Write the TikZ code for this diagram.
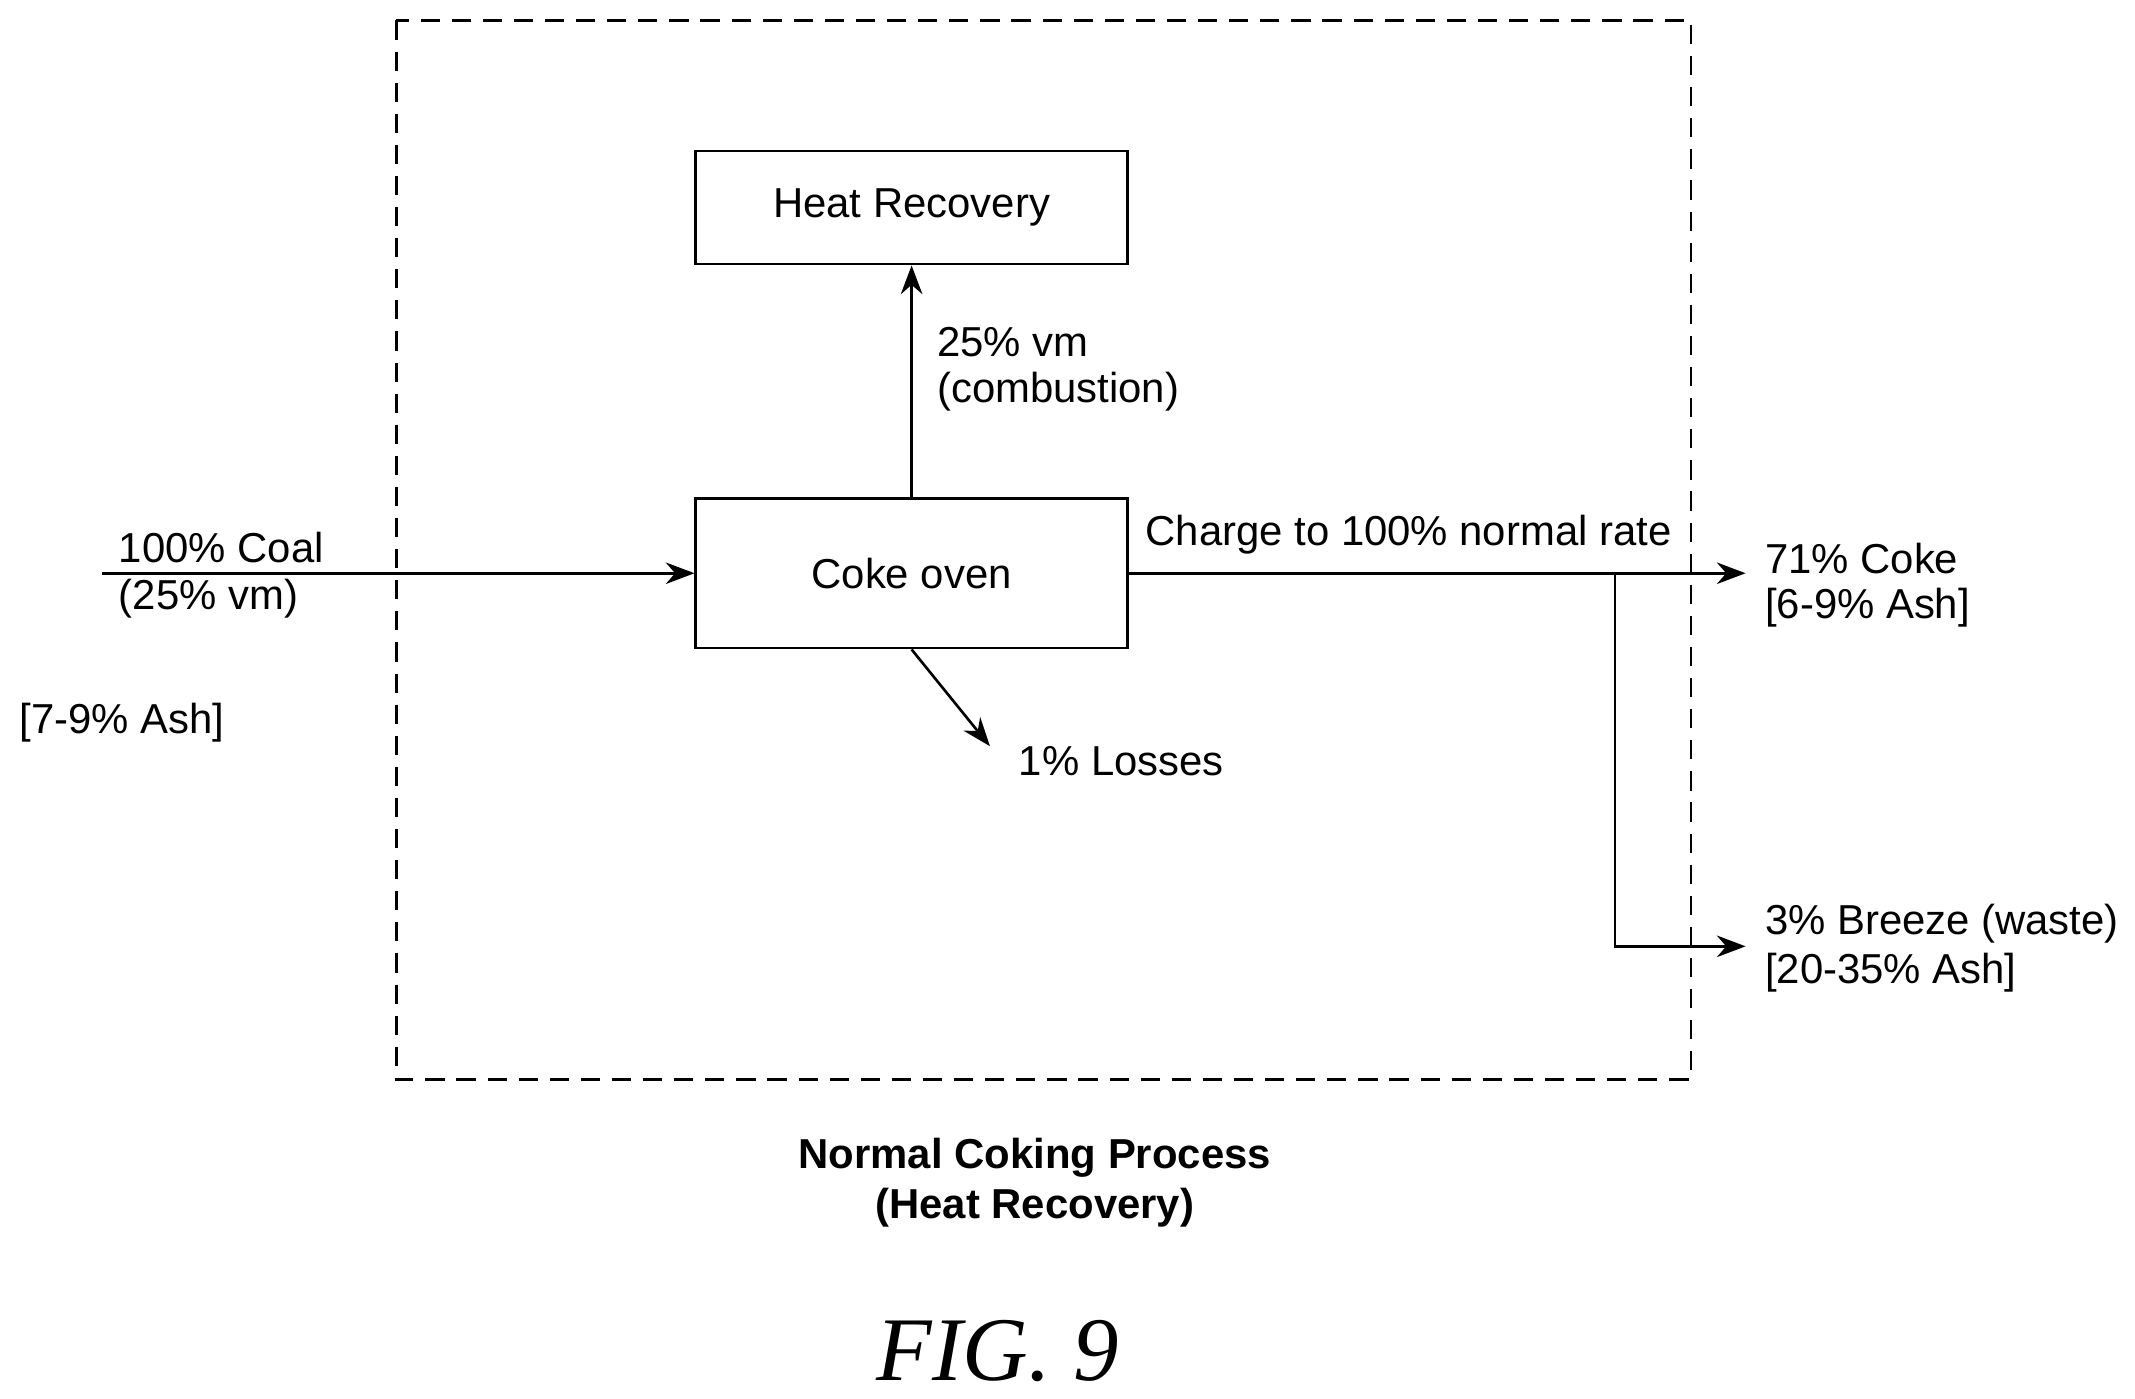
\documentclass[tikz,border=0pt]{standalone}
\usepackage{fontspec}
\setmainfont{Liberation Sans}
\newfontfamily\figfont{Liberation Serif}
\usetikzlibrary{arrows.meta}
\begin{document}
\begin{tikzpicture}[x=0.02cm,y=-0.02cm,
  lbl/.style={font=\fontsize{17.5}{21}\selectfont,inner sep=0pt,anchor=west},
  box/.style={draw,line width=1.1pt,inner sep=0pt},
  arr/.style={line width=1.1pt,-{Stealth[length=12pt,width=9pt]}}]
\useasboundingbox (0,0) rectangle (1568,1027);
\draw[dashed,line width=1.1pt,dash pattern=on 8pt off 5pt] (291,15) rectangle (1242,793);
\node[box,minimum width=317*0.02cm,minimum height=83*0.02cm] (hr) at (669.5,152.5) {\fontsize{17.5}{21}\selectfont Heat Recovery};
\node[box,minimum width=317*0.02cm,minimum height=110*0.02cm] (co) at (669.5,421) {\fontsize{17.5}{21}\selectfont Coke oven};
\coordinate (in) at (75,421);
\coordinate (out) at (1282,421);
\coordinate (br) at (1186,421);
\coordinate (bro) at (1282,695);
\coordinate (loss) at (727,548);
\draw[arr] (co.north) -- (hr.south);
\draw[arr] (in) -- (co.west);
\draw[arr] (co.east) -- (out);
\draw[arr] (br) |- (bro);
\draw[arr] (co.south) -- (loss);
\node[lbl] (t1) at (688,251) {25\% vm};
\node[lbl] (t2) at (688,288) {(combustion)};
\node[lbl] (t3) at (87,402) {100\% Coal};
\node[lbl] (t4) at (87,440) {(25\% vm)};
\node[lbl] (t5) at (14,531) {[7-9\% Ash]};
\node[lbl] (t6) at (841,393) {Charge to 100\% normal rate};
\node[lbl] (t7) at (1296,410) {71\% Coke};
\node[lbl] (t8) at (1296,446) {[6-9\% Ash]};
\node[lbl] (t9) at (1296,678) {3\% Breeze (waste)};
\node[lbl] (t10) at (1296,714) {[20-35\% Ash]};
\node[lbl] (t11) at (748,559) {1\% Losses};
\node[font=\fontsize{17.5}{21}\selectfont\bfseries,inner sep=0pt] (ti1) at (760,850) {Normal Coking Process};
\node[font=\fontsize{17.5}{21}\selectfont\bfseries,inner sep=0pt] (ti2) at (760,887) {(Heat Recovery)};
\node[font=\fontsize{38}{40}\selectfont\figfont\itshape,inner sep=0pt] (fig) at (733,992) {FIG. 9};
\end{tikzpicture}
\end{document}
